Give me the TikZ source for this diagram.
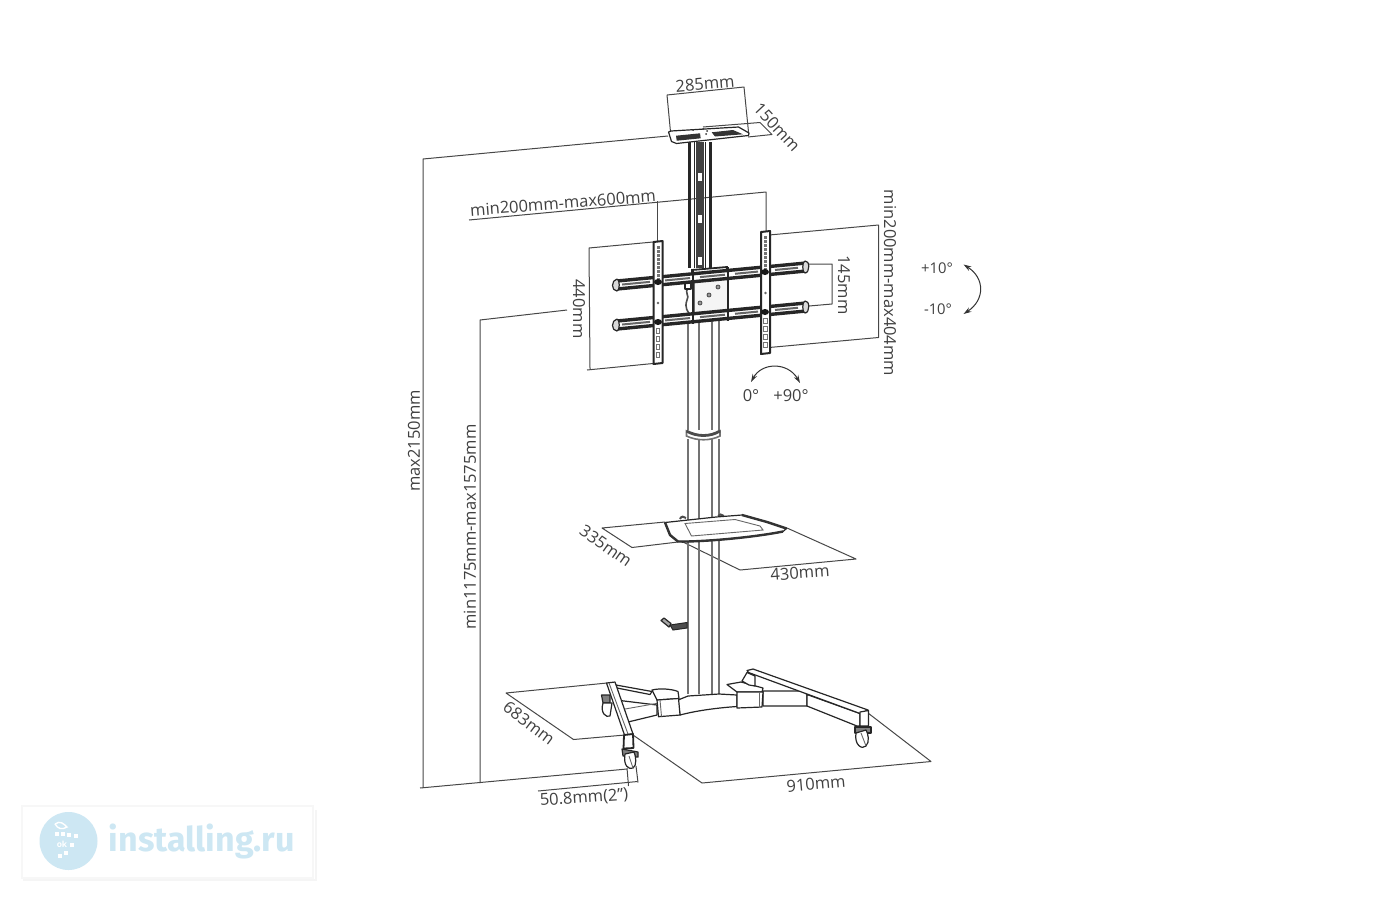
\documentclass[tikz,border=0pt]{standalone}
\usepackage{fontspec}
\setmainfont{Open Sans}
\newfontfamily\markfont{Fira Sans}
\usetikzlibrary{calc}
\usetikzlibrary{arrows.meta}
\colorlet{dimc}{black!72}
\colorlet{inkc}{black!85}
\definecolor{markc}{HTML}{CDE7F3}
\tikzset{dimline/.style={draw=dimc,line width=0.5pt,line join=round},
  dimtext/.style={text=black!75,inner sep=0pt,font=\fontsize{8.25}{10}\selectfont},
  prod/.style={draw=inkc,line width=0.6pt,fill=white,line join=round},
  prodthin/.style={draw=black!60,line width=0.45pt},
  pole/.style={draw=black!55,line width=0.8pt},
  turn/.style={draw=black!80,line width=0.5pt,{Stealth[length=4pt,width=2.5pt]}-{Stealth[length=4pt,width=2.5pt]}}
}

\begin{document}
\begin{tikzpicture}[x=0.5pt,y=-0.5pt]
    \useasboundingbox (0,0) rectangle (1400,900);
    % corners of the measuring lines
    \coordinate (hTopL) at (423,159);
    \coordinate (hTopR) at (668,136);
    \coordinate (hBotL) at (420,788);
    \coordinate (hBotR) at (627,769);
    \coordinate (mTop) at (480,320);
    \coordinate (mTopR) at (567,310);
    \coordinate (mBot) at (480,783);
    % total height and screen height
    \draw[dimline] (hTopR) -- (hTopL) -- (423,788);
    \draw[dimline] (hBotL) -- (hBotR);
    \draw[dimline] (mTopR) -- (mTop) -- (mBot);
    % top tray
    \draw[dimline] (670.5,132) -- (667,95) -- (744,87) -- (748.5,132);
    \draw[dimline] (703,127) -- (760,122.5) -- (772,134.5) -- (748,137);
    % screen width and height
    \draw[dimline] (469,220) -- (766,192) -- (766,231);
    \draw[dimline] (657.5,201) -- (657.5,241);
    \draw[dimline] (653,242) -- (589,248) -- (590,369);
    \draw[dimline] (587,370) -- (653,363.5);
    \draw[dimline] (769,235) -- (878.5,225) -- (878.5,337.5) -- (769,347.5);
    \draw[dimline] (809,264) -- (832,264) -- (832,304) -- (809,306);
    % shelf
    \draw[dimline] (665,522) -- (602,528) -- (632,547.5) -- (678,542);
    \draw[dimline] (683,542) -- (740,570) -- (856,559) -- (787,528);
    % feet
    \draw[dimline] (607,683) -- (506,693) -- (573.5,739.5) -- (625,735);
    \draw[dimline] (633,735) -- (702,783) -- (931,761.5) -- (868,713);
    \draw[dimline] (538,791) -- (637.5,781.5);
    \draw[dimline] (627,768) -- (628.5,786);
    \draw[dimline] (636,766) -- (638,782.5);

    % column
    \foreach \px in {688,699,712,719}
      \draw[pole] (\px,320) -- (\px,694);
    \path[fill=white] (680,430) rectangle (728,442);
    \draw[pole,fill=white] (686.5,431) .. controls (697,437) and (710,437) .. (720,431)
      -- (720,436) .. controls (710,441) and (697,441) .. (686.5,436) -- cycle;
    \draw[line width=1.4pt,black!70] (686.5,431) .. controls (697,437) and (710,437) .. (720,431);
    \foreach \px in {688,699,712,719}
      \draw[pole] (\px,439) -- (\px,446);

    % upper post
    \foreach \px/\pw in {689.2/1.6pt,694.5/0.5pt,705/0.5pt,710.5/1.6pt}
      \draw[black!85,line width=\pw] (\px,142) -- (\px,268);
    \fill[black!75] (696,142) rectangle (704,268);
    \foreach \py in {177,219,261}
      \fill[white] (697.5,\py-4) rectangle (701.5,\py+4);

    % top tray
    \draw[prod] (668.5,132) -- (671.5,141.5) -- (676.5,143.5) -- (748.5,135.5) -- (749,133)
      -- (738.5,127) -- (671,131) -- cycle;
    \fill[black!80] (676,135.7) -- (700,133.3) -- (700.7,138.3) -- (676.7,140.7) -- cycle;
    \fill[black!80] (711.7,132.3) -- (733,130) -- (743,134.3) -- (715,136.5) -- cycle;
    \foreach \px/\py in {693/130,703/129,707/131,706/134}
      \fill[black!80] (\px,\py) circle (1);

    % bracket in the middle
    \draw[black!70,line width=0.8pt] (688,288) .. controls (684,292) and (690,296) .. (687,300)
      .. controls (684,308) and (688,312) .. (691,316);
    \draw[prod] (685,283) rectangle (691,289);
    \draw[prod,fill=black!4] (694,281) -- (728,278) -- (728,312) -- (694,315) -- cycle;
    \foreach \hx/\hy in {718/287,709/295,700/303}
      \draw[black!70,fill=black!40,line width=0.4pt] (\hx,\hy) circle (2);
    \draw[black!85,line width=0.9pt,fill=white] (692,270) -- (727,267) -- (727,277) -- (692,280) -- cycle;

    % rails and strips of the mount
    \foreach \py in {285,325}{
      \draw[black!70,line width=0.5pt,fill=white] (616,\py-4) -- (806,\py-22) -- (806,\py-14) -- (616,\py+4) -- cycle;
      \draw[black!85,line width=1.7pt] (617,\py-4) -- (806,\py-22);
      \draw[black!85,line width=1.7pt] (617,\py+4) -- (806,\py-14);
      \foreach \a/\b in {622/650,665/690,700/725,735/758,775/798}
        \draw[black!60,line width=1pt] (\a,{\py-(\a-617)*0.0952}) -- (\b,{\py-(\b-617)*0.0952});
      \draw[prod,fill=black!15] (617,\py-6) .. controls (611,\py-5) and (611,\py+6) .. (617,\py+6)
        .. controls (620,\py+6) and (620,\py-6) .. (617,\py-6);
      \draw[prod,fill=black!15] (805,\py-24) .. controls (810,\py-25) and (810,\py-12) .. (805,\py-12)
        .. controls (802,\py-12) and (802,\py-24) .. (805,\py-24);
    }
    \draw[black!85,line width=0.9pt] (693,270) -- (693,324);
    \draw[black!85,line width=0.9pt] (728,267) -- (728,321);
    \foreach \sx/\sy in {653.5/242,761/232}{
      \draw[prod,line width=1pt] (\sx,\sy) -- (\sx+9,\sy-1) -- (\sx+9,\sy+121) -- (\sx,\sy+122) -- cycle;
      \foreach \k in {0,...,8}
        \fill[black!55] (\sx+3,\sy+4+4*\k) rectangle (\sx+6,\sy+6.5+4*\k);
      \fill[black!60] (\sx+4.5,\sy+61) circle (1.4);
      \foreach \k in {0,...,3}
        \draw[black!55,line width=0.5pt] (\sx+2.8,\sy+86+8*\k) rectangle (\sx+6.2,\sy+91+8*\k);
    }
    \foreach \dx/\dy in {658/282,658/322,765/272,765/312}
      \fill[black!90] (\dx,\dy) ellipse (4 and 3);

    % shelf
    \draw[black!70,line width=1pt] (680,519) .. controls (681,516) and (684,516) .. (686,518);
    \draw[black!70,line width=1pt] (718,516) .. controls (719,514) and (722,514) .. (724,516);
    \draw[prod] (665,522.5) -- (670,535) -- (678,541.5) .. controls (700,542) and (750,538) .. (783,531.5)
      -- (786.5,528.5) -- (767,522) -- (742,515) -- (716,517) -- cycle;
    \draw[prodthin] (685,523.5) -- (691.5,536) -- (763,530) -- (760,526) -- (735,519.5) -- cycle;
    \draw[black!80,line width=1.2pt] (665,522.5) -- (670,535) -- (678,541.5) .. controls (700,542) and (750,538) .. (783,531.5);
    \draw[black!80,line width=1.2pt] (742,515) -- (767,522) -- (786.5,528.5);

    % lever
    \draw[black!85,fill=black!70,line width=0.5pt] (670,625) -- (687,622.5) -- (687,628) -- (673,630) -- cycle;
    \draw[prod,fill=black!35] (661,620.5) -- (664,618) -- (671,623.5) -- (669,627) -- cycle;

    % beam under the column
    \draw[prod] (678,700) -- (688,696) -- (719,694) -- (737,695) -- (737,706.5)
      .. controls (715,708) and (695,711) .. (680,715) -- cycle;
    % arms on the left
    \draw[prod] (616,685) -- (652,691.5) -- (650,694.5) -- (617,688) -- cycle;
    \draw[prod] (620,700.5) -- (657,705) -- (657,715) -- (628,722) -- (623,709) -- cycle;
    \draw[prodthin] (623.3,709.3) -- (657.3,703.3);
    % hub on the left
    \draw[prod] (652,690) .. controls (660,688) and (672,689) .. (678,691.5) -- (679,698.5) -- (657,700) -- cycle;
    \draw[prod] (657,700) -- (678.5,698.5) -- (680,715) -- (658.5,716.7) -- cycle;
    \draw[prodthin] (660,700) -- (661.5,716.5);
    % hub and arm on the right
    \draw[prod] (763,691) -- (803,691) -- (807,694.5) -- (807,706) -- (763,706) -- cycle;
    \draw[prod] (807,694.5) -- (860,713.5) -- (860,726) -- (857,726) -- (807,706) -- cycle;
    \draw[prod] (727,684.5) -- (741,682) -- (763,688) -- (762,692) -- (737,692) -- cycle;
    \draw[prod] (737,692) -- (763,692) -- (762,707) -- (737,708) -- cycle;
    \draw[prodthin] (759,692) -- (759,707);
    \draw[prod] (742,681) -- (747,672.5) -- (755,676) -- (755,686) -- (749,685) -- cycle;
    % leg on the right
    \draw[prod] (748.5,672.5) -- (747,670.5) -- (753,669) -- (868,710) -- (860,713.5) -- cycle;
    \draw[prod] (860,712) -- (868.5,710.5) -- (868.5,726) -- (860,726) -- cycle;
    \draw[prod,fill=black!50] (855,727) -- (871,727) -- (871,733) -- (855,733) -- cycle;
    \draw[prod] (856,733) .. controls (854,745) and (862,750) .. (866,746) .. controls (870,742) and (868,733) .. (866,730) -- cycle;
    \draw[prodthin] (861,733) -- (866,746);
    % back caster and leg on the left
    \draw[prod,fill=black!50] (601.5,695) -- (610,695) -- (610,703) -- (603,703) -- cycle;
    \draw[prod] (603,703) .. controls (600,713) and (606,718) .. (610,716) -- (612,703) -- cycle;
    \draw[prod] (606.5,683) -- (615,682) -- (633,734) -- (624.5,735) -- cycle;
    \draw[prodthin] (609,683) -- (628,734);
    \draw[prod,line width=0.9pt] (624,735) -- (633,734) -- (633.5,748) -- (623.5,748.5) -- cycle;
    \draw[prod,fill=black!50] (622,749) -- (638,752) -- (638,757) -- (623,756) -- cycle;
    \draw[prod] (625,754) .. controls (623,766) and (629,770) .. (633,768) .. controls (637,766) and (636,756) .. (634,752) -- cycle;
    \draw[prodthin] (629,756) -- (633,768);

    % measures
    \node[dimtext,rotate=5] (wTray) at (705,84) {285mm};
    \node[dimtext,rotate=-47] (dTray) at (777,127) {150mm};
    \node[dimtext,rotate=4.5] (wScreen) at (563,203) {min200mm-max600mm};
    \node[dimtext,rotate=-90] (hRail) at (579,309) {440mm};
    \node[dimtext,rotate=-90] (gapRail) at (844,285) {145mm};
    \node[dimtext,rotate=-90] (hScreen) at (890,283) {min200mm-max404mm};
    \node[dimtext,rotate=90] (hMax) at (414,441) {max2150mm};
    \node[dimtext,rotate=90] (hMount) at (470,527) {min1175mm-max1575mm};
    \node[dimtext,rotate=-35] (dShelf) at (606,546) {335mm};
    \node[dimtext,rotate=4] (wShelf) at (800,573) {430mm};
    \node[dimtext,rotate=-37] (dFoot) at (529,723) {683mm};
    \node[dimtext,rotate=5] (wFoot) at (816,784) {910mm};
    \node[dimtext,rotate=4] (wWheel) at (584,798) {50.8mm(2")};
    % tilt and rotation
    \node[dimtext,font=\fontsize{7.4}{9}\selectfont] (tiltUp) at (937,268) {+10°};
    \node[dimtext,font=\fontsize{7.4}{9}\selectfont] (tiltDown) at (938,309) {-10°};
    \node[dimtext] (rotZero) at (751,396) {0°};
    \node[dimtext] (rotNinety) at (791,396) {+90°};
    \draw[turn] (963.5,264.5) .. controls (985,278) and (985,300) .. (963.5,314);
    \draw[turn] (751,382) .. controls (762,362) and (788,362) .. (800,383);

    % logo
    \draw[black!4,line width=0.8pt] (24,810) -- (24,880) -- (316,880) -- (316,810);
    \draw[black!3,line width=0.8pt,fill=white] (22,806) rectangle (313,878);
    \fill[markc] (68.5,841) circle (29);
    \node[text=white,inner sep=0pt,font=\fontsize{4.2}{5}\selectfont\bfseries] (markOk) at (62,844) {ok};
    \draw[white,line width=0.7pt] (55,824) .. controls (60,820) and (64,824) .. (67,827) .. controls (62,830) and (58,829) .. (55,824);
    \foreach \px/\py in {57/834,63/834,69/835,76/836,72/845,66/853,60/856}
      \fill[white] (\px-1.8,\py-1.8) rectangle (\px+1.8,\py+1.8);
    \node[text=markc,inner sep=0pt,font=\markfont\fontsize{17}{20}\selectfont\bfseries] (markName) at (202,841) {installing.ru};
  \end{tikzpicture}
\end{document}
